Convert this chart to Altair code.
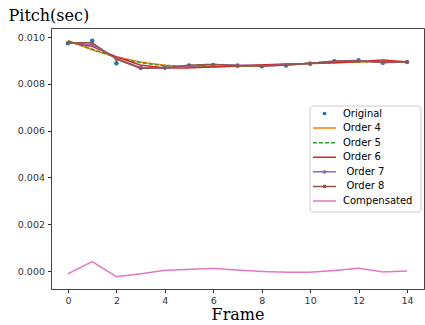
import altair as alt
import pandas as pd

frames = list(range(15))
series_names = ["Original", "Order 4", "Order 5", "Order 6", "Order 7", "Order 8", "Compensated"]
series_colors = ["#1f77b4", "#ff7f0e", "#2ca02c", "#d62728", "#9467bd", "#8c564b", "#e377c2"]
series_dash = [[1, 0], [1, 0], [4, 2], [1, 0], [1, 0], [1, 0], [1, 0]]

original = [0.00973, 0.00984, 0.00888, 0.00869, 0.00873, 0.00877, 0.00879, 0.00877, 0.00875, 0.00878, 0.00886, 0.00896, 0.00901, 0.00890, 0.00893]
order4 = [0.00985, 0.00945, 0.00915, 0.00893, 0.00879, 0.00874, 0.00873, 0.00875, 0.00878, 0.00882, 0.00886, 0.00890, 0.00893, 0.00895, 0.00895]
order5 = [0.00983, 0.00948, 0.00913, 0.00890, 0.00877, 0.00872, 0.00873, 0.00876, 0.00880, 0.00884, 0.00888, 0.00892, 0.00895, 0.00895, 0.00893]
order6 = [0.00978, 0.00960, 0.00915, 0.00880, 0.00868, 0.00868, 0.00872, 0.00877, 0.00881, 0.00884, 0.00887, 0.00890, 0.00895, 0.00902, 0.00893]
order7 = [0.00975, 0.00968, 0.00908, 0.00870, 0.00866, 0.00875, 0.00882, 0.00880, 0.00877, 0.00880, 0.00887, 0.00897, 0.00900, 0.00890, 0.00893]
order8 = [0.00975, 0.00975, 0.00905, 0.00866, 0.00868, 0.00880, 0.00883, 0.00878, 0.00875, 0.00880, 0.00888, 0.00897, 0.00897, 0.00893, 0.00893]
compensated = [-0.00012, 0.00040, -0.00024, -0.00012, 0.00003, 0.00007, 0.00011, 0.00004, -0.00002, -0.00005, -0.00005, 0.00002, 0.00012, -0.00004, 0.00000]

x_ticks = [0, 2, 4, 6, 8, 10, 12, 14]
y_ticks = [0.000, 0.002, 0.004, 0.006, 0.008, 0.010]

values = [original, order4, order5, order6, order7, order8, compensated]
rows = []
for name, vals in zip(series_names, values):
    for f, v in zip(frames, vals):
        rows.append({"Frame": f, "value": v, "series": name})
df = pd.DataFrame(rows)

color_scale = alt.Scale(domain=series_names, range=series_colors)
dash_scale = alt.Scale(domain=series_names, range=series_dash)

x_enc = alt.X("Frame:Q", scale=alt.Scale(domain=[-0.7, 14.7], nice=False, zero=False),
              axis=alt.Axis(values=x_ticks, title="Frame", grid=False, titleFont="DejaVu Serif",
                            titleFontSize=16, titleFontWeight="normal", titleColor="black",
                            titleY=30.5, titleBaseline="alphabetic"))
y_enc = alt.Y("value:Q", scale=alt.Scale(domain=[-0.000769, 0.010385], nice=False, zero=False),
              axis=alt.Axis(values=y_ticks, format=".3f", title="Pitch(sec)", grid=False,
                            titleFont="DejaVu Serif", titleFontSize=16, titleFontWeight="normal",
                            titleColor="black", titleAngle=0, titleAlign="left",
                            titleBaseline="alphabetic", titleX=-43, titleY=-8))

base = alt.Chart(df)

orig_pts = base.transform_filter(alt.datum.series == "Original").mark_circle(size=20, opacity=1).encode(
    x=x_enc, y=y_enc,
    color=alt.Color("series:N", scale=color_scale, legend=None))

lines = base.transform_filter(alt.datum.series != "Original").mark_line(strokeWidth=1.5).encode(
    x=x_enc, y=y_enc,
    color=alt.Color("series:N", scale=color_scale, legend=None),
    strokeDash=alt.StrokeDash("series:N", scale=dash_scale, legend=None),
    detail="series:N")

marker_pts = base.transform_filter(
    (alt.datum.series == "Order 7") | (alt.datum.series == "Order 8")
).mark_circle(size=12, opacity=1).encode(
    x=x_enc, y=y_enc,
    color=alt.Color("series:N", scale=color_scale, legend=None))

main = alt.layer(orig_pts, lines, marker_pts)

# legend
leg_df = pd.DataFrame({"series": series_names})
leg_y = alt.Y("series:N", scale=alt.Scale(type="point", domain=series_names, range=[85.5, 173], padding=0), axis=None)
is_marker_line = (alt.datum.series == "Order 7") | (alt.datum.series == "Order 8")

leg_box = alt.Chart(pd.DataFrame({"a": [0]})).mark_rect(
    fill="white", fillOpacity=0.8, stroke="#cccccc", strokeWidth=1, cornerRadius=3
).encode(x=alt.value(259), x2=alt.value(370), y=alt.value(78), y2=alt.value(184))

leg_lines = alt.Chart(leg_df).transform_filter(alt.datum.series != "Original").mark_rule(strokeWidth=1.5).encode(
    x=alt.value(262), x2=alt.value(285), y=leg_y,
    color=alt.Color("series:N", scale=color_scale, legend=None),
    strokeDash=alt.StrokeDash("series:N", scale=dash_scale, legend=None))

leg_pts = alt.Chart(leg_df).transform_filter(
    (alt.datum.series == "Original") | is_marker_line
).mark_circle(size=14, opacity=1).encode(
    x=alt.value(273.5), y=leg_y,
    color=alt.Color("series:N", scale=color_scale, legend=None))

leg_text = alt.Chart(leg_df).transform_filter(~is_marker_line).mark_text(
    align="left", baseline="middle", font="DejaVu Sans", fontSize=10, color="black").encode(
    x=alt.value(292), y=leg_y, text="series:N")

leg_text2 = alt.Chart(leg_df).transform_filter(is_marker_line).mark_text(
    align="left", baseline="middle", font="DejaVu Sans", fontSize=10, color="black").encode(
    x=alt.value(295.5), y=leg_y, text="series:N")

legend = alt.layer(leg_box, leg_lines, leg_pts, leg_text, leg_text2)

chart = alt.layer(main, legend).resolve_scale(y="independent").properties(
    width=373, height=261,
    autosize=alt.AutoSizeParams(type="none"),
    padding={"left": 51, "top": 28, "right": 1, "bottom": 36},
).configure_view(stroke="#444444", strokeWidth=1).configure_axis(
    labelFont="DejaVu Sans", labelFontSize=9.5, labelColor="#333333",
    tickColor="#333333", tickSize=3.5, domainColor="#444444", labelPadding=3,
)

chart.save("out.html", embed_options={"renderer": "svg", "actions": False})
